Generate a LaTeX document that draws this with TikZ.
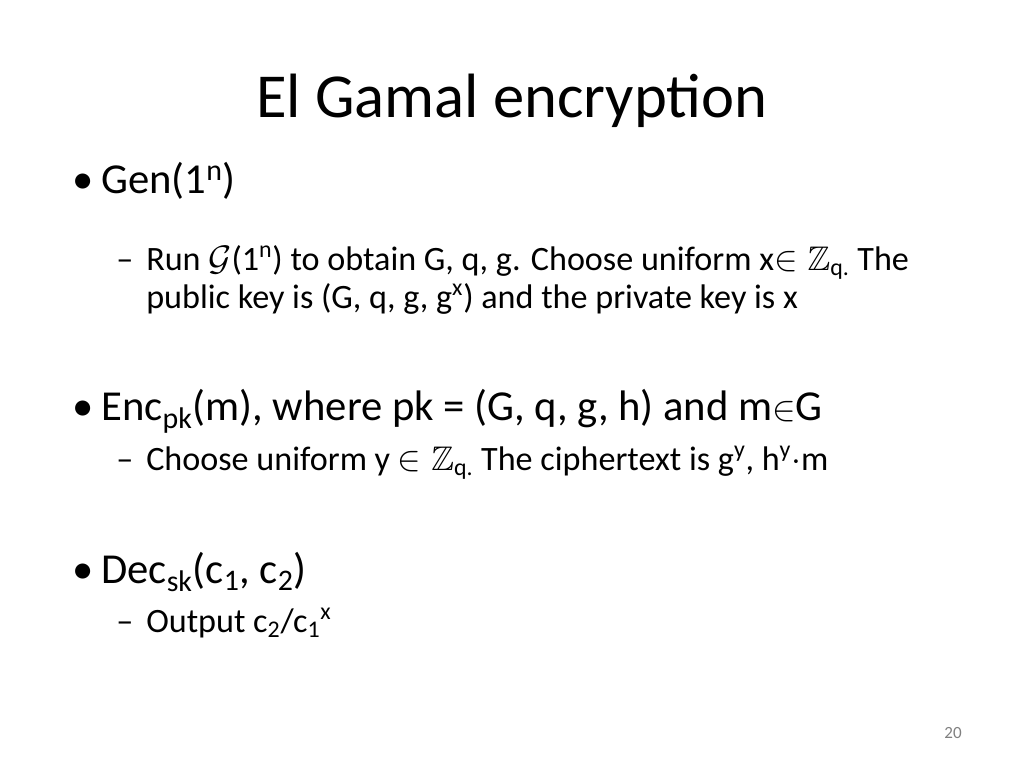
\documentclass[tikz,border=0pt]{standalone}
\usepackage{amsmath}
\usepackage{amssymb}
\usepackage{fontspec}
\setmainfont{Carlito}
\tikzstyle{Title}=[anchor=base, inner sep=0pt, font=\fontsize{44}{50}\selectfont]
\tikzstyle{LevelOne}=[anchor=base west, inner sep=0pt, font=\fontsize{30}{36}\selectfont]
\tikzstyle{LevelTwo}=[anchor=base west, inner sep=0pt, font=\fontsize{24}{29}\selectfont]
\tikzstyle{Bullet}=[anchor=base west, inner sep=0pt, font=\fontsize{30}{36}\selectfont]
\tikzstyle{Dash}=[anchor=base west, inner sep=0pt, font=\fontsize{24}{29}\selectfont]
\begin{document}
\begin{tikzpicture}[x=0.703pt, y=-0.703pt]
	\useasboundingbox (0,0) rectangle (1024,768);
	% title
	\node [style=Title] (title) at (512,117) {El Gamal encryption};
	% key generation
	\node [style=Bullet] (gen_bullet) at (72,193) {•};
	\node [style=LevelOne] (gen) at (101,193) {Gen(1\textsuperscript{n})};
	\node [style=Dash] (gen_dash) at (116,270) {–};
	\node [style=LevelTwo] (gen_run) at (146,270) {Run $\mathcal{G}$(1\textsuperscript{n}) to obtain G, q, g. Choose uniform x$\in\mathbb{Z}$\textsubscript{q.} The};
	\node [style=LevelTwo] (gen_key) at (146,308) {public key is (G, q, g, g\textsuperscript{x}) and the private key is x};
	% encryption
	\node [style=Bullet] (enc_bullet) at (72,420) {•};
	\node [style=LevelOne] (enc) at (101,420) {Enc\textsubscript{pk}(m), where pk = (G, q, g, h) and m$\in$G};
	\node [style=Dash] (enc_dash) at (116,470) {–};
	\node [style=LevelTwo] (enc_choose) at (146,470) {Choose uniform y $\in\mathbb{Z}$\textsubscript{q.} The ciphertext is g\textsuperscript{y}, h\textsuperscript{y}$\cdot$m};
	% decryption
	\node [style=Bullet] (dec_bullet) at (72,583) {•};
	\node [style=LevelOne] (dec) at (101,583) {Dec\textsubscript{sk}(c\textsubscript{1}, c\textsubscript{2})};
	\node [style=Dash] (dec_dash) at (116,632) {–};
	\node [style=LevelTwo] (dec_out) at (146,632) {Output c\textsubscript{2}/c\textsubscript{1}\textsuperscript{x}};
	% page number
	\node [anchor=base, inner sep=0pt, text=gray, font=\fontsize{12}{14}\selectfont] (page) at (953,738) {20};
\end{tikzpicture}
\end{document}
